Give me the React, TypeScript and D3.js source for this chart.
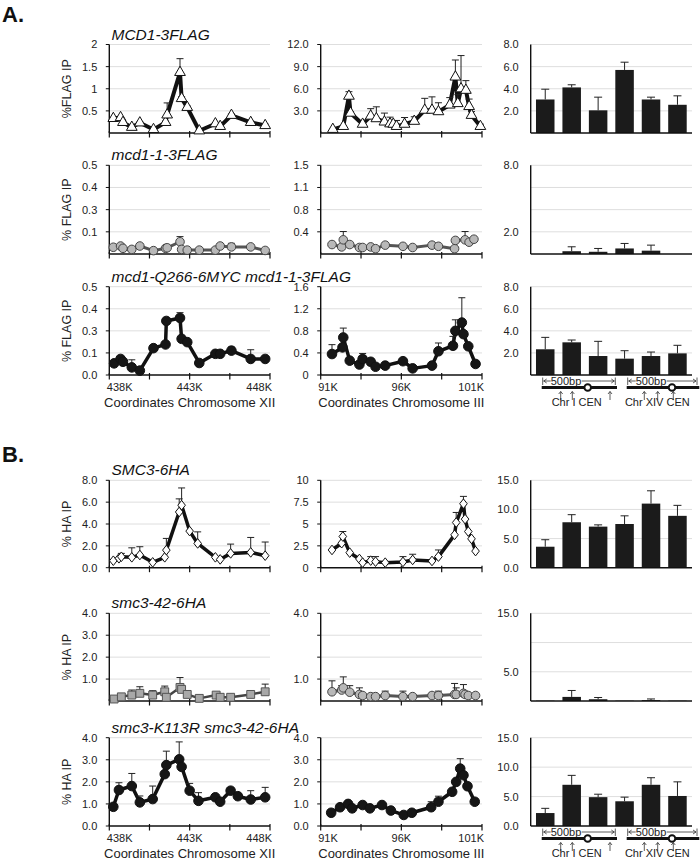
import React from 'react';
import * as d3 from 'd3';

type Pt = [number, number, number];

// ---------- axis ticks ----------
const xTicksXII = [438, 440.5, 443, 445.5, 448];
const xLabelsXII = ['438K', '', '443K', '', '448K'];
const xTicksIII = [91, 93.5, 96, 98.5, 101];
const xLabelsIII = ['91K', '', '96K', '', '101K'];

// ---------- panel A ----------
const mcd1XII: Pt[] = [
  [438.25, 0.33, 0.02], [438.7, 0.35, 0.02], [438.85, 0.24, 0.02], [439.4, 0.13, 0.02], [439.9, 0.23, 0.02],
  [440.75, 0.08, 0.02], [441.5, 0.24, 0.03], [441.6, 0.41, 0.27], [442.4, 1.37, 0.31], [442.5, 0.78, 0.04],
  [442.85, 0.58, 0.03], [443.6, 0.05, 0.02], [444.6, 0.21, 0.02], [444.9, 0.15, 0.02], [445.6, 0.4, 0.03],
  [446.8, 0.24, 0.03], [447.7, 0.17, 0.03],
];
const mcd1III: Pt[] = [
  [91.75, 0.5, 0], [92.4, 0.9, 0.1], [92.75, 5.0, 0.6], [92.85, 2.7, 0.2], [93.6, 1.2, 0.1], [94.1, 2.3, 1.0],
  [94.45, 1.95, 1.6], [94.95, 1.5, 1.2], [95.3, 1.25, 0.9], [95.5, 1.2, 0.3], [95.7, 0.9, 0.8], [96.2, 1.2, 0.9],
  [96.8, 1.6, 0.6], [97.45, 3.1, 1.6], [97.9, 3.1, 1.8], [98.3, 2.9, 1.2], [99.0, 3.8, 1.0], [99.35, 7.6, 2.3],
  [99.5, 4.0, 1.2], [99.7, 6.0, 4.5], [100.0, 5.8, 1.3], [100.2, 3.6, 1.0], [100.35, 2.4, 0.5], [100.9, 0.9, 0.3],
];
const mcd11XII: Pt[] = [
  [438.25, 0.038, 0], [438.7, 0.045, 0.005], [438.85, 0.032, 0], [439.4, 0.026, 0], [439.9, 0.045, 0],
  [440.75, 0.019, 0], [441.5, 0.032, 0], [441.6, 0.035, 0], [442.4, 0.069, 0.029], [442.5, 0.026, 0],
  [442.85, 0.022, 0], [443.6, 0.022, 0], [444.6, 0.022, 0], [444.9, 0.045, 0.005], [445.6, 0.04, 0.02],
  [446.8, 0.04, 0], [447.7, 0.02, 0],
];
const mcd11III: Pt[] = [
  [91.7, 0.16, 0], [92.3, 0.12, 0], [92.4, 0.24, 0.14], [92.8, 0.16, 0], [93.4, 0.11, 0], [93.6, 0.11, 0],
  [94.1, 0.12, 0], [94.4, 0.09, 0], [95.0, 0.15, 0], [96.1, 0.13, 0], [96.7, 0.11, 0], [97.9, 0.15, 0],
  [98.3, 0.13, 0], [99.3, 0.09, 0], [99.35, 0.23, 0], [99.95, 0.24, 0.14], [100.2, 0.2, 0], [100.5, 0.25, 0],
];
const q266XII: Pt[] = [
  [438.3, 0.066, 0], [438.7, 0.091, 0], [438.85, 0.075, 0], [439.4, 0.043, 0.043], [439.9, 0.025, 0],
  [440.75, 0.152, 0], [441.5, 0.173, 0], [441.55, 0.306, 0], [442.4, 0.323, 0.03], [442.5, 0.205, 0],
  [442.85, 0.186, 0], [443.6, 0.068, 0], [444.6, 0.12, 0], [444.9, 0.12, 0], [445.6, 0.138, 0.02],
  [446.8, 0.091, 0.052], [447.7, 0.091, 0],
];
const q266III: Pt[] = [
  [91.7, 0.38, 0.17], [92.35, 0.5, 0], [92.4, 0.68, 0.17], [92.8, 0.26, 0], [93.4, 0.19, 0], [93.6, 0.29, 0.1],
  [94.1, 0.24, 0], [94.4, 0.15, 0], [95.0, 0.17, 0], [96.1, 0.25, 0], [96.7, 0.12, 0], [97.9, 0.17, 0],
  [98.3, 0.43, 0.15], [99.2, 0.53, 0.17], [99.35, 0.8, 0.2], [99.75, 0.95, 0.45], [99.85, 0.74, 0],
  [100.15, 0.52, 0], [100.6, 0.2, 0],
];

// ---------- panel B ----------
const smc3XII: Pt[] = [
  [438.25, 0.64, 0], [438.6, 0.86, 0], [438.75, 1.0, 0.31], [439.4, 0.95, 0.87], [439.9, 1.16, 0.76],
  [440.7, 0.49, 0], [441.45, 0.95, 0], [441.55, 1.61, 1.07], [442.35, 5.1, 1.2], [442.5, 5.72, 1.58],
  [443.0, 3.35, 0], [443.5, 2.22, 1.06], [444.6, 0.95, 0], [444.9, 0.76, 0], [445.55, 1.31, 0.85],
  [446.8, 1.4, 1.37], [447.7, 1.1, 1.25],
];
const smc3III: Pt[] = [
  [91.7, 2.03, 0], [92.3, 2.8, 0], [92.37, 3.57, 0.57], [92.8, 1.72, 0], [93.4, 1.0, 0], [93.6, 0.58, 0],
  [94.1, 0.81, 0.46], [94.4, 0.69, 0.58], [95.0, 0.58, 0], [96.1, 0.66, 0.61], [96.7, 0.89, 0.65],
  [97.9, 0.77, 0], [98.3, 1.27, 0.76], [99.3, 3.76, 0], [99.4, 5.17, 1.15], [99.85, 7.32, 0.84],
  [99.95, 5.56, 0], [100.15, 4.14, 0], [100.35, 3.3, 0], [100.6, 1.9, 0],
];
const smc342XII: Pt[] = [
  [438.3, 0.09, 0], [438.75, 0.19, 0.05], [439.4, 0.27, 0.23], [439.9, 0.35, 0.3], [440.7, 0.27, 0.2],
  [441.45, 0.42, 0.26], [441.55, 0.17, 0], [442.4, 0.62, 0.45], [442.5, 0.53, 0], [442.85, 0.3, 0],
  [443.6, 0.12, 0], [444.65, 0.27, 0], [444.9, 0.17, 0], [445.55, 0.17, 0], [446.8, 0.3, 0.1],
  [447.7, 0.42, 0.35],
];
const smc342III: Pt[] = [
  [91.7, 0.42, 0.5], [92.3, 0.5, 0.2], [92.4, 0.6, 0.5], [92.8, 0.4, 0.3], [93.4, 0.3, 0.3], [93.6, 0.25, 0],
  [94.1, 0.2, 0.1], [94.4, 0.2, 0], [95.0, 0.25, 0.2], [96.1, 0.2, 0.25], [96.7, 0.2, 0], [97.9, 0.25, 0.1],
  [98.3, 0.25, 0.2], [99.3, 0.3, 0.5], [99.4, 0.3, 0.3], [99.85, 0.35, 0.4], [99.95, 0.3, 0.1],
  [100.15, 0.25, 0.1], [100.6, 0.25, 0],
];
const k113rXII: Pt[] = [
  [438.25, 0.87, 0], [438.6, 1.63, 0.33], [439.4, 1.81, 0.57], [439.9, 1.07, 0.29], [440.7, 1.22, 0.59],
  [441.45, 2.35, 0], [441.55, 2.76, 0.63], [442.35, 3.02, 0.79], [442.5, 2.68, 0], [443.0, 1.6, 0.33],
  [443.55, 1.14, 0.37], [444.6, 1.3, 0], [444.9, 1.1, 0], [445.55, 1.6, 0], [446.0, 1.35, 0],
  [446.8, 1.2, 0.4], [447.7, 1.3, 0.45],
];
const k113rIII: Pt[] = [
  [91.65, 0.6, 0], [92.2, 0.85, 0.1], [92.7, 1.0, 0], [92.95, 0.8, 0], [93.6, 0.95, 0], [94.05, 0.8, 0],
  [94.8, 0.95, 0], [95.35, 0.7, 0], [96.15, 0.5, 0], [96.65, 0.6, 0], [97.85, 0.85, 0.25], [98.3, 1.1, 0.25],
  [99.15, 1.55, 0], [99.4, 2.0, 0], [99.65, 2.6, 0.45], [99.85, 2.3, 0], [100.1, 1.8, 0], [100.55, 1.1, 0],
];

// ---------- bars (ChrI CEN x3, ChrXIV CEN x3) ----------
const barSites = ['I-a', 'I-b', 'I-c', 'XIV-a', 'XIV-b', 'XIV-c'];
const barsMcd1 = [3.03, 4.12, 2.05, 5.7, 3.03, 2.55];
const errMcd1 = [0.93, 0.24, 1.19, 0.7, 0.21, 0.81];
const barsMcd11 = [0, 0.25, 0.2, 0.5, 0.3, 0];
const errMcd11 = [0, 0.4, 0.3, 0.45, 0.5, 0];
const barsQ266 = [2.33, 2.96, 1.72, 1.48, 1.72, 1.96];
const errQ266 = [1.08, 0.21, 1.33, 0.72, 0.36, 0.73];
const barsSmc3 = [3.6, 7.8, 7.05, 7.5, 11.0, 8.9];
const errSmc3 = [1.2, 1.3, 0.3, 1.4, 2.2, 1.8];
const barsSmc342 = [0.05, 0.7, 0.3, 0.05, 0.15, 0.05];
const errSmc342 = [0, 1.1, 0.3, 0, 0.2, 0];
const barsK113r = [2.2, 7.0, 4.9, 4.2, 7.0, 5.1];
const errK113r = [0.8, 1.6, 0.5, 0.7, 1.2, 2.4];

const FONT = '"Liberation Sans", Arial, Helvetica, sans-serif';
const LEFT: [number, number] = [109.3, 270];
const MID: [number, number] = [320.7, 482];
const BARX: [number, number] = [530.7, 692];
const ROWS: [number, number][] = [
  [44.5, 133], [165.3, 254], [286.7, 375], [480.3, 567.7], [613.3, 701], [737.7, 826],
];
const GRID = '#dedede';

type MarkerKind = 'triangle' | 'grayCircle' | 'blackCircle' | 'diamond' | 'graySquare';
const STYLES: Record<MarkerKind, { line: string; width: number; fill: string; stroke: string }> = {
  triangle: { line: '#111', width: 4, fill: '#fff', stroke: '#111' },
  grayCircle: { line: '#555', width: 3, fill: '#b8b8b8', stroke: '#444' },
  blackCircle: { line: '#111', width: 3.5, fill: '#161616', stroke: '#111' },
  diamond: { line: '#111', width: 3.5, fill: '#fff', stroke: '#111' },
  graySquare: { line: '#444', width: 2.5, fill: '#a8a8a8', stroke: '#555' },
};

function markerPath(kind: MarkerKind): string {
  if (kind === 'triangle') return d3.symbol().type(d3.symbolTriangle).size(50)() as string;
  if (kind === 'graySquare') return d3.symbol().type(d3.symbolSquare).size(62)() as string;
  if (kind === 'diamond') return 'M0,-4.8L3.8,0L0,4.8L-3.8,0Z';
  const r = kind === 'grayCircle' ? 4.3 : 4.8;
  return d3.symbol().type(d3.symbolCircle).size(Math.PI * r * r)() as string;
}

interface YAxisProps {
  x0: number; x1: number; y: d3.ScaleLinear<number, number>; ticks: number[]; labels: string[]; tickMarks?: boolean;
}
function YAxis({ x0, x1, y, ticks, labels, tickMarks = true }: YAxisProps) {
  const [b, t] = y.range();
  return (
    <g>
      {ticks.map((v, i) => (
        <g key={i}>
          {v !== y.domain()[0] && <line x1={x0} x2={x1} y1={y(v)} y2={y(v)} stroke={GRID} strokeWidth={1} />}
          {tickMarks && <line x1={x0 - 3.5} x2={x0} y1={y(v)} y2={y(v)} stroke="#111" strokeWidth={1} />}
          {labels[i] && (
            <text x={x0 - 12} y={y(v)} dy="0.36em" textAnchor="end" fontSize={11} fill="#222">{labels[i]}</text>
          )}
        </g>
      ))}
      <line x1={x0} x2={x0} y1={t} y2={b} stroke="#111" strokeWidth={1.4} />
    </g>
  );
}

interface LineProps {
  xr: [number, number]; row: [number, number]; xDomain: [number, number]; yMax: number;
  yTicks: number[]; yLabels: string[]; xTicks: number[]; xLabels?: string[]; data: Pt[];
  kind: MarkerKind; xTitle?: string;
}
function LinePlot({ xr, row, xDomain, yMax, yTicks, yLabels, xTicks, xLabels, data, kind, xTitle }: LineProps) {
  const x = d3.scaleLinear().domain(xDomain).range(xr);
  const y = d3.scaleLinear().domain([0, yMax]).range([row[1], row[0]]);
  const st = STYLES[kind];
  const line = d3.line<Pt>().x((d) => x(d[0])).y((d) => y(d[1]));
  const mp = markerPath(kind);
  return (
    <g>
      <YAxis x0={xr[0]} x1={xr[1]} y={y} ticks={yTicks} labels={yLabels} />
      <line x1={xr[0]} x2={xr[1]} y1={row[1]} y2={row[1]} stroke="#111" strokeWidth={1.4} />
      {xTicks.map((v, i) => (
        <g key={i}>
          <line x1={x(v)} x2={x(v)} y1={row[1] - 2} y2={row[1] + 4.5} stroke="#111" strokeWidth={1.2} />
          {xLabels && xLabels[i] && (
            <text
              x={i === 0 ? x(v) - 2.5 : i === xTicks.length - 1 ? x(v) + 2 : x(v)}
              y={row[1] + 15.5}
              textAnchor={i === 0 ? 'start' : i === xTicks.length - 1 ? 'end' : 'middle'}
              fontSize={11}
              fill="#222"
            >{xLabels[i]}</text>
          )}
        </g>
      ))}
      {xTitle && (
        <text x={(xr[0] + xr[1]) / 2} y={row[1] + 31.5} textAnchor="middle" fontSize={13} fill="#222">{xTitle}</text>
      )}
      <path d={line(data) as string} fill="none" stroke={st.line} strokeWidth={st.width} strokeLinejoin="round" />
      {data.filter((d) => d[2] > 0).map((d, i) => (
        <g key={'e' + i} stroke="#222" strokeWidth={1}>
          <line x1={x(d[0])} x2={x(d[0])} y1={y(d[1])} y2={y(d[1] + d[2])} />
          <line x1={x(d[0]) - 3.5} x2={x(d[0]) + 3.5} y1={y(d[1] + d[2])} y2={y(d[1] + d[2])} />
        </g>
      ))}
      {data.map((d, i) => (
        <path key={'m' + i} d={mp} transform={`translate(${x(d[0])},${y(d[1])})`} fill={st.fill} stroke={st.stroke} strokeWidth={1} />
      ))}
    </g>
  );
}

interface BarProps {
  row: [number, number]; yMax: number; yTicks: number[]; yLabels: string[]; values: number[]; errs: number[];
}
function BarPlot({ row, yMax, yTicks, yLabels, values, errs }: BarProps) {
  const x = d3.scaleBand<string>().domain(barSites).range(BARX).paddingInner(0.3).paddingOuter(0.2);
  const y = d3.scaleLinear().domain([0, yMax]).range([row[1], row[0]]);
  const bw = x.bandwidth();
  return (
    <g>
      <YAxis x0={BARX[0]} x1={BARX[1]} y={y} ticks={yTicks} labels={yLabels} tickMarks={false} />
      {values.map((v, i) => {
        const cx = (x(barSites[i]) as number) + bw / 2;
        return (
          <g key={i}>
            {v > 0 && <rect x={x(barSites[i])} width={bw} y={y(v)} height={y(0) - y(v)} fill="#1b1b1b" />}
            {errs[i] > 0 && (
              <g stroke="#222" strokeWidth={1}>
                <line x1={cx} x2={cx} y1={y(v)} y2={y(v + errs[i])} />
                <line x1={cx - 4} x2={cx + 4} y1={y(v + errs[i])} y2={y(v + errs[i])} />
              </g>
            )}
          </g>
        );
      })}
      <line x1={BARX[0]} x2={BARX[1]} y1={row[1]} y2={row[1]} stroke="#111" strokeWidth={1.4} />
    </g>
  );
}

// centromere diagram under bar plots
const cenGroups = [
  { start: 541.7, end: 617, mEnd: 615.3, cen: 587.7, arrows: [560.7, 572.3, 610], label: 'Chr I CEN', lx: 576.7 },
  { start: 626.7, end: 699.3, mEnd: 697, cen: 672, arrows: [644.3, 657.7, 673.3], label: 'Chr XIV CEN', lx: 657.3 },
];
function CenDiagram({ axisY }: { axisY: number }) {
  return (
    <g>
      {cenGroups.map((g, i) => {
        const my = axisY + 6;
        const tStart = g.start + 9;
        const tEnd = tStart + 31;
        return (
          <g key={i}>
            <line x1={g.start + 1} x2={g.start + 1} y1={axisY + 2.5} y2={axisY + 10} stroke="#333" strokeWidth={0.8} />
            <line x1={g.mEnd} x2={g.mEnd} y1={axisY + 2.5} y2={axisY + 10} stroke="#333" strokeWidth={0.8} />
            <line x1={g.start + 2} x2={tStart} y1={my} y2={my} stroke="#333" strokeWidth={0.8} />
            <path d={`M${g.start + 5},${my - 2}L${g.start + 2},${my}L${g.start + 5},${my + 2}`} fill="none" stroke="#333" strokeWidth={0.8} />
            <line x1={tEnd} x2={g.mEnd - 1} y1={my} y2={my} stroke="#333" strokeWidth={0.8} />
            <path d={`M${g.mEnd - 4},${my - 2}L${g.mEnd - 1},${my}L${g.mEnd - 4},${my + 2}`} fill="none" stroke="#333" strokeWidth={0.8} />
            <text x={tStart} y={axisY + 10} fontSize={11} fill="#222">500bp</text>
            <line x1={g.start} x2={g.end} y1={axisY + 12.5} y2={axisY + 12.5} stroke="#111" strokeWidth={3} />
            <circle cx={g.cen} cy={axisY + 12.5} r={3.3} fill="#fff" stroke="#111" strokeWidth={2} />
            {g.arrows.map((ax, j) => (
              <g key={j} stroke="#333" strokeWidth={0.8} fill="none">
                <line x1={ax} x2={ax} y1={axisY + 25} y2={axisY + 16.5} />
                <path d={`M${ax - 2},${axisY + 19}L${ax},${axisY + 16.5}L${ax + 2},${axisY + 19}`} />
              </g>
            ))}
            <text x={g.lx} y={axisY + 30.7} textAnchor="middle" fontSize={11} fill="#222">{g.label}</text>
          </g>
        );
      })}
    </g>
  );
}

function RowTitle({ row, text }: { row: [number, number]; text: string }) {
  return <text x={111.5} y={row[0] - 5} fontSize={15.5} fontStyle="italic" fill="#111">{text}</text>;
}
function YTitle({ row, text }: { row: [number, number]; text: string }) {
  return (
    <text transform={`translate(70.5,${(row[0] + row[1]) / 2}) rotate(-90)`} textAnchor="middle" fontSize={12.5} fill="#222">{text}</text>
  );
}

export default function App() {
  const XII: [number, number] = [438, 448];
  const III: [number, number] = [91, 101];
  return (
    <svg width={700} height={859} style={{ position: 'absolute', left: 0, top: 0, background: '#fff' }} fontFamily={FONT}>
      <rect width={700} height={859} fill="#fff" />
      <text x={2} y={21.7} fontSize={22} fontWeight="bold" fill="#111">A.</text>
      <text x={2} y={461.7} fontSize={22} fontWeight="bold" fill="#111">B.</text>

      {/* Row 1 */}
      <RowTitle row={ROWS[0]} text="MCD1-3FLAG" />
      <YTitle row={ROWS[0]} text="%FLAG IP" />
      <LinePlot xr={LEFT} row={ROWS[0]} xDomain={XII} yMax={2} yTicks={[0.5, 1, 1.5, 2]} yLabels={['0.5', '1', '1.5', '2']} xTicks={xTicksXII} data={mcd1XII} kind="triangle" />
      <LinePlot xr={MID} row={ROWS[0]} xDomain={III} yMax={12} yTicks={[3, 6, 9, 12]} yLabels={['3.0', '6.0', '9.0', '12.0']} xTicks={xTicksIII} data={mcd1III} kind="triangle" />
      <BarPlot row={ROWS[0]} yMax={8} yTicks={[2, 4, 6, 8]} yLabels={['2.0', '4.0', '6.0', '8.0']} values={barsMcd1} errs={errMcd1} />

      {/* Row 2 */}
      <RowTitle row={ROWS[1]} text="mcd1-1-3FLAG" />
      <YTitle row={ROWS[1]} text="% FLAG IP" />
      <LinePlot xr={LEFT} row={ROWS[1]} xDomain={XII} yMax={0.5} yTicks={[0.125, 0.25, 0.375, 0.5]} yLabels={['0.1', '0.3', '0.4', '0.5']} xTicks={xTicksXII} data={mcd11XII} kind="grayCircle" />
      <LinePlot xr={MID} row={ROWS[1]} xDomain={III} yMax={1.5} yTicks={[0.375, 0.75, 1.125, 1.5]} yLabels={['0.4', '0.8', '1.1', '1.5']} xTicks={xTicksIII} data={mcd11III} kind="grayCircle" />
      <BarPlot row={ROWS[1]} yMax={8} yTicks={[2, 4, 6, 8]} yLabels={['2.0', '', '', '8.0']} values={barsMcd11} errs={errMcd11} />

      {/* Row 3 */}
      <RowTitle row={ROWS[2]} text="mcd1-Q266-6MYC mcd1-1-3FLAG" />
      <YTitle row={ROWS[2]} text="% FLAG IP" />
      <LinePlot xr={LEFT} row={ROWS[2]} xDomain={XII} yMax={0.5} yTicks={[0, 0.125, 0.25, 0.375, 0.5]} yLabels={['0.0', '0.1', '0.3', '0.4', '0.5']} xTicks={xTicksXII} xLabels={xLabelsXII} data={q266XII} kind="blackCircle" xTitle="Coordinates Chromosome XII" />
      <LinePlot xr={MID} row={ROWS[2]} xDomain={III} yMax={1.6} yTicks={[0, 0.4, 0.8, 1.2, 1.6]} yLabels={['0', '0.4', '0.8', '1.2', '1.6']} xTicks={xTicksIII} xLabels={xLabelsIII} data={q266III} kind="blackCircle" xTitle="Coordinates Chromosome III" />
      <BarPlot row={ROWS[2]} yMax={8} yTicks={[2, 4, 6, 8]} yLabels={['2.0', '4.0', '6.0', '8.0']} values={barsQ266} errs={errQ266} />
      <CenDiagram axisY={ROWS[2][1]} />

      {/* Row 4 */}
      <RowTitle row={ROWS[3]} text="SMC3-6HA" />
      <YTitle row={ROWS[3]} text="% HA IP" />
      <LinePlot xr={LEFT} row={ROWS[3]} xDomain={XII} yMax={8} yTicks={[0, 2, 4, 6, 8]} yLabels={['0.0', '2.0', '4.0', '6.0', '8.0']} xTicks={xTicksXII} data={smc3XII} kind="diamond" />
      <LinePlot xr={MID} row={ROWS[3]} xDomain={III} yMax={10} yTicks={[0, 2.5, 5, 7.5, 10]} yLabels={['0', '2.5', '5', '7.5', '10']} xTicks={xTicksIII} data={smc3III} kind="diamond" />
      <BarPlot row={ROWS[3]} yMax={15} yTicks={[0, 5, 10, 15]} yLabels={['0.0', '5.0', '10.0', '15.0']} values={barsSmc3} errs={errSmc3} />

      {/* Row 5 */}
      <RowTitle row={ROWS[4]} text="smc3-42-6HA" />
      <YTitle row={ROWS[4]} text="% HA IP" />
      <LinePlot xr={LEFT} row={ROWS[4]} xDomain={XII} yMax={4} yTicks={[1, 2, 3, 4]} yLabels={['1.0', '2.0', '3.0', '4.0']} xTicks={xTicksXII} data={smc342XII} kind="graySquare" />
      <LinePlot xr={MID} row={ROWS[4]} xDomain={III} yMax={4} yTicks={[1, 2, 3, 4]} yLabels={['1.0', '', '', '4.0']} xTicks={xTicksIII} data={smc342III} kind="grayCircle" />
      <BarPlot row={ROWS[4]} yMax={15} yTicks={[5, 10, 15]} yLabels={['5.0', '', '15.0']} values={barsSmc342} errs={errSmc342} />

      {/* Row 6 */}
      <RowTitle row={ROWS[5]} text="smc3-K113R smc3-42-6HA" />
      <YTitle row={ROWS[5]} text="% HA IP" />
      <LinePlot xr={LEFT} row={ROWS[5]} xDomain={XII} yMax={4} yTicks={[0, 1, 2, 3, 4]} yLabels={['0.0', '1.0', '2.0', '3.0', '4.0']} xTicks={xTicksXII} xLabels={xLabelsXII} data={k113rXII} kind="blackCircle" xTitle="Coordinates Chromosome XII" />
      <LinePlot xr={MID} row={ROWS[5]} xDomain={III} yMax={4} yTicks={[0, 1, 2, 3, 4]} yLabels={['0.0', '1.0', '2.0', '3.0', '4.0']} xTicks={xTicksIII} xLabels={xLabelsIII} data={k113rIII} kind="blackCircle" xTitle="Coordinates Chromosome III" />
      <BarPlot row={ROWS[5]} yMax={15} yTicks={[0, 5, 10, 15]} yLabels={['0.0', '5.0', '10.0', '15.0']} values={barsK113r} errs={errK113r} />
      <CenDiagram axisY={ROWS[5][1]} />
    </svg>
  );
}
